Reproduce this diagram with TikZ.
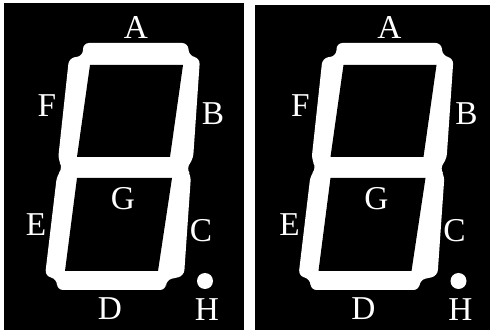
\documentclass[tikz,border=0pt]{standalone}
\usepackage{fontspec}
\setmainfont{Liberation Serif}
\begin{document}
\begin{tikzpicture}[x=0.75pt,y=-0.75pt,
  lbl/.style={text=white,font=\fontsize{25}{25}\selectfont,inner sep=0pt},
  digitfill/.style={fill=white,rounded corners=4.5pt},
  hole/.style={fill=black}]
\useasboundingbox (0,0) rectangle (494,335);
\fill[white] (0,0) rectangle (494,335);
\fill[black] (4,3) rectangle (244,330);
\fill[black] (255,5) rectangle (490,330);
\foreach \dx/\n in {0/L,253.5/R}{
\begin{scope}[shift={(\dx,0)}]
  \fill[digitfill] (83,43) -- (188,43) -- (189,56) -- (200,58) -- (193,160)
    -- (186,168) -- (191,175) -- (184,276) -- (166,280) -- (166,290)
    -- (57,290) -- (57,279) -- (45,276) -- (57,175) -- (63,168)
    -- (58,160) -- (69,58) -- (83,56) -- cycle;
  \fill[hole] (90,65) -- (183,65) -- (170,157) -- (77,157) -- cycle;
  \fill[hole] (77,178) -- (172,178) -- (158,271) -- (65,271) -- cycle;
  \fill[white] (205,281) circle[radius=6pt];
  \node[lbl] (A\n) at (136,27.5) {A};
  \node[lbl] (F\n) at (47,106) {F};
  \node[lbl] (B\n) at (213,114) {B};
  \node[lbl] (G\n) at (123,199) {G};
  \node[lbl] (E\n) at (36,225) {E};
  \node[lbl] (C\n) at (201,231) {C};
  \node[lbl] (D\n) at (110,309) {D};
  \node[lbl] (H\n) at (207,310) {H};
\end{scope}
}
\end{tikzpicture}
\end{document}
